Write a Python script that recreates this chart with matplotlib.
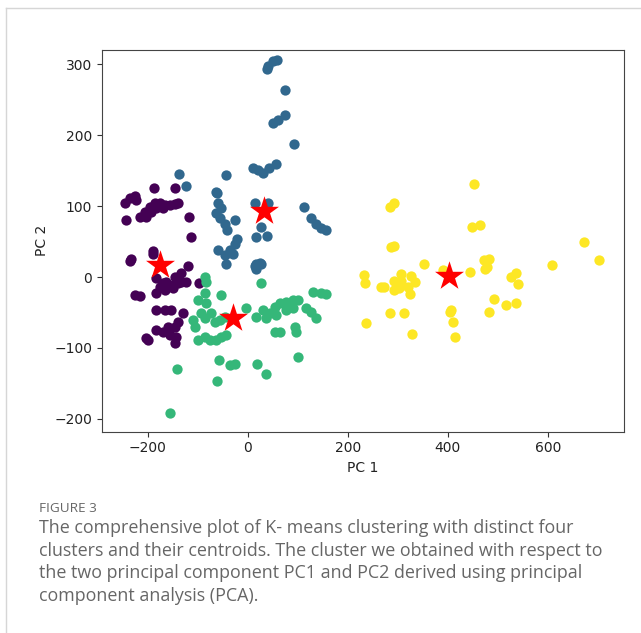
import matplotlib
matplotlib.use("Agg")
import matplotlib.pyplot as plt
from matplotlib.lines import Line2D

# cluster 0 (purple)
c0_x = [-188, -146, -246, -236, -226, -223, -243, -216, -206, -196, -186, -176, -166, -156, -146,
        -139, -203, -193, -183, -169, -118, -113, -233, -189, -235, -189, -119, -133, -146, -133,
        -149, -163, -169, -183, -176, -183, -166, -149, -139, -123, -97, -226, -216, -183, -166,
        -153, -129, -183, -169, -156, -143, -146, -159, -139, -146, -203, -199]
c0_y = [126, 125, 104, 111, 114, 108, 80, 85, 92, 99, 104, 104, 101, 101, 103,
        104, 85, 92, 97, 97, 85, 56, 26, 36, 23, 33, 15, 5, 0, -7,
        -11, -7, -9, -2, -14, -23, -18, -16, -9, -7, -9, -25, -27, -46, -46,
        -46, -50, -75, -77, -82, -84, -93, -70, -63, -70, -86, -89]

# cluster 1 (blue)
c1_x = [41, 51, 59, 39, 75, 51, 61, 75, 93, 11, 21, 31, 43, 56, -43, -137, -124,
        -61, -59, -53, -63, -56, -46, -41, -26, 14, 41, 26, 17, 39, 112, 127, 137,
        147, 157, -21, -26, -36, -29, -59, -46, -43, 24, 14, 17, 26, 17, -63]
c1_y = [298, 304, 306, 293, 263, 217, 222, 228, 187, 153, 151, 147, 153, 159, 144, 145, 128,
        119, 104, 98, 90, 83, 75, 67, 81, 105, 104, 71, 57, 58, 99, 83, 75,
        69, 67, 54, 46, 38, 32, 38, 31, 19, 20, 15, 19, 19, 12, 120]

# cluster 2 (green)
c2_x = [-86, -83, 27, 131, 147, 157, -53, -86, -83, -99, -109, -106, -93, -86, -73, -66,
        -56, -46, -99, -86, -76, -63, -53, -43, -3, 17, 31, 44, 54, 64, 77, 91, 101,
        37, 57, 77, 91, 117, 127, 137, 54, 64, 94, 96, 101, -58, -36, -26, 19, 37,
        -141, -61, -156]
c2_y = [0, -7, -8, -21, -22, -24, -25, -23, -37, -32, -61, -70, -51, -58, -51, -63,
        -61, -56, -89, -84, -89, -89, -85, -82, -44, -56, -46, -51, -42, -37, -35, -32, -32,
        -58, -54, -46, -44, -44, -49, -58, -77, -77, -70, -77, -112, -117, -124, -122, -122, -137,
        -129, -146, -192]

# cluster 3 (yellow)
c3_x = [452, 284, 293, 449, 464, 286, 293, 673, 703, 609, 353, 472, 482, 475, 479, 444,
        391, 232, 234, 267, 273, 293, 303, 293, 306, 306, 321, 327, 334, 324, 527, 537,
        541, 492, 517, 536, 483, 284, 312, 404, 407, 411, 236, 329, 414]
c3_y = [131, 99, 105, 71, 74, 42, 44, 50, 24, 17, 18, 24, 25, 12, 14, 7,
        10, 3, -8, -14, -14, -18, -16, -5, 4, -5, -14, 1, -7, -24, 0, 5,
        -10, -31, -39, -37, -49, -51, -51, -49, -46, -63, -65, -80, -84]

cent_x = [-176, 32, -29, 403]
cent_y = [17, 93, -58, 1]

colors = ['#440154', '#31688e', '#35b779', '#fde725']

fig = plt.figure(figsize=(6.41, 6.33), dpi=100)
ax = fig.add_axes([0.159, 0.318, 0.814, 0.603])

for (xs, ys), c in zip([(c0_x, c0_y), (c1_x, c1_y), (c2_x, c2_y), (c3_x, c3_y)], colors):
    ax.scatter(xs, ys, s=55, color=c, linewidths=0)
ax.scatter(cent_x, cent_y, s=480, marker='*', color='red', linewidths=0)

ax.set_xlim(-292, 752)
ax.set_ylim(-218, 320)
ax.set_xticks([-200, 0, 200, 400, 600])
ax.set_yticks([-200, -100, 0, 100, 200, 300])
ax.tick_params(labelsize=10, colors='#222222', color='#333333')
for sp in ax.spines.values():
    sp.set_color('#444444')
ax.set_xlabel('PC 1', fontsize=10, color='#222222')
ax.set_ylabel('PC 2', fontsize=10, color='#222222')

# card border
fig.add_artist(Line2D([6 / 641, 1], [1 - 8 / 633, 1 - 8 / 633], transform=fig.transFigure,
                      color='#d6d6d6', lw=1))
fig.add_artist(Line2D([6 / 641, 6 / 641], [0, 1 - 8 / 633], transform=fig.transFigure,
                      color='#d6d6d6', lw=1))

fig.text(39 / 641, 1 - 509 / 633, 'FIGURE 3', family='Open Sans', fontsize=9.7,
         color='#666666', va='center')
caption = ("The comprehensive plot of K- means clustering with distinct four\n"
           "clusters and their centroids. The cluster we obtained with respect to\n"
           "the two principal component PC1 and PC2 derived using principal\n"
           "component analysis (PCA).")
fig.text(39 / 641, 1 - 519 / 633, caption, family='Open Sans', fontsize=12.9,
         color='#666666', va='top', linespacing=1.33)

fig.savefig('out.png', dpi=100)
